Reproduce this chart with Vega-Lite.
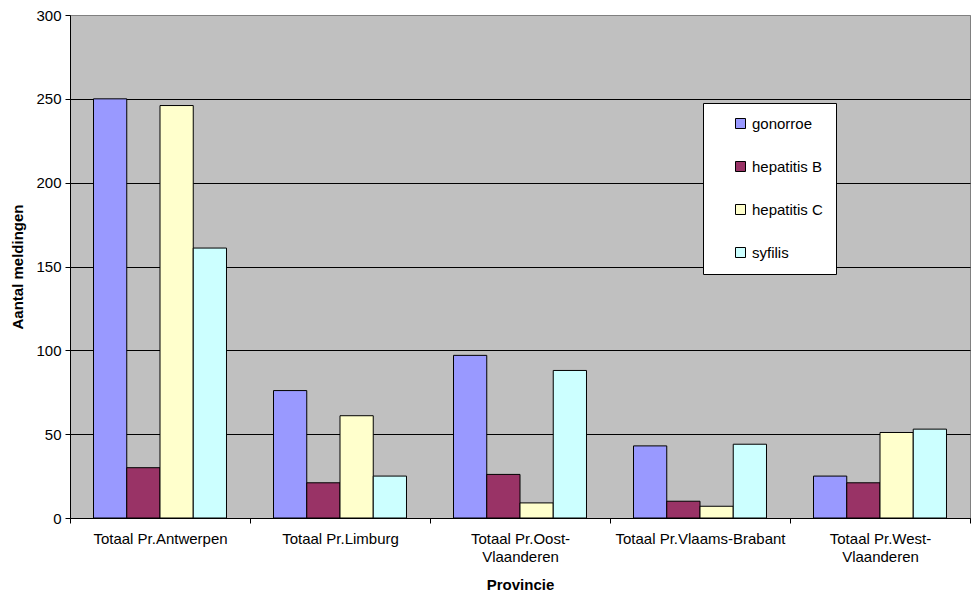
{
  "$schema": "https://vega.github.io/schema/vega-lite/v6.json",
  "width": 900,
  "height": 503,
  "autosize": {"type": "none"},
  "padding": {"left": 70, "top": 15, "right": 1, "bottom": 74},
  "background": "white",
  "config": {
    "font": "Liberation Sans",
    "view": {"fill": "#C0C0C0", "stroke": "#808080", "strokeWidth": 1}
  },
  "data": {
    "values": [
      {"provincie": "Totaal Pr.Antwerpen", "ziekte": "gonorroe", "aantal": 250},
      {"provincie": "Totaal Pr.Antwerpen", "ziekte": "hepatitis B", "aantal": 30},
      {"provincie": "Totaal Pr.Antwerpen", "ziekte": "hepatitis C", "aantal": 246},
      {"provincie": "Totaal Pr.Antwerpen", "ziekte": "syfilis", "aantal": 161},
      {"provincie": "Totaal Pr.Limburg", "ziekte": "gonorroe", "aantal": 76},
      {"provincie": "Totaal Pr.Limburg", "ziekte": "hepatitis B", "aantal": 21},
      {"provincie": "Totaal Pr.Limburg", "ziekte": "hepatitis C", "aantal": 61},
      {"provincie": "Totaal Pr.Limburg", "ziekte": "syfilis", "aantal": 25},
      {"provincie": "Totaal Pr.Oost-Vlaanderen", "ziekte": "gonorroe", "aantal": 97},
      {"provincie": "Totaal Pr.Oost-Vlaanderen", "ziekte": "hepatitis B", "aantal": 26},
      {"provincie": "Totaal Pr.Oost-Vlaanderen", "ziekte": "hepatitis C", "aantal": 9},
      {"provincie": "Totaal Pr.Oost-Vlaanderen", "ziekte": "syfilis", "aantal": 88},
      {"provincie": "Totaal Pr.Vlaams-Brabant", "ziekte": "gonorroe", "aantal": 43},
      {"provincie": "Totaal Pr.Vlaams-Brabant", "ziekte": "hepatitis B", "aantal": 10},
      {"provincie": "Totaal Pr.Vlaams-Brabant", "ziekte": "hepatitis C", "aantal": 7},
      {"provincie": "Totaal Pr.Vlaams-Brabant", "ziekte": "syfilis", "aantal": 44},
      {"provincie": "Totaal Pr.West-Vlaanderen", "ziekte": "gonorroe", "aantal": 25},
      {"provincie": "Totaal Pr.West-Vlaanderen", "ziekte": "hepatitis B", "aantal": 21},
      {"provincie": "Totaal Pr.West-Vlaanderen", "ziekte": "hepatitis C", "aantal": 51},
      {"provincie": "Totaal Pr.West-Vlaanderen", "ziekte": "syfilis", "aantal": 53}
    ]
  },
  "mark": {"type": "bar", "stroke": "black", "strokeWidth": 1},
  "encoding": {
    "x": {
      "field": "provincie",
      "type": "nominal",
      "sort": null,
      "scale": {"paddingInner": 0, "paddingOuter": 0},
      "axis": {
        "title": "Provincie",
        "titleFontSize": 15,
        "titleFontWeight": "bold",
        "titleColor": "black",
        "titlePadding": 13,
        "labelAngle": 0,
        "labelFontSize": 15,
        "labelColor": "black",
        "labelPadding": 8,
        "labelLineHeight": 18,
        "labelExpr": "datum.value == 'Totaal Pr.Oost-Vlaanderen' ? ['Totaal Pr.Oost-', 'Vlaanderen'] : datum.value == 'Totaal Pr.West-Vlaanderen' ? ['Totaal Pr.West-', 'Vlaanderen'] : datum.value",
        "tickBand": "extent",
        "tickSize": 5,
        "tickColor": "black",
        "domainColor": "black",
        "grid": false
      }
    },
    "xOffset": {
      "field": "ziekte",
      "type": "nominal",
      "scale": {"paddingInner": 0, "paddingOuter": 0.707}
    },
    "y": {
      "field": "aantal",
      "type": "quantitative",
      "scale": {"domain": [0, 300], "nice": false},
      "axis": {
        "title": "Aantal meldingen",
        "titleFontSize": 15,
        "titleFontWeight": "bold",
        "titleColor": "black",
        "titlePadding": 10,
        "values": [0, 50, 100, 150, 200, 250, 300],
        "labelFontSize": 15,
        "labelColor": "black",
        "labelPadding": 4,
        "tickSize": 5,
        "tickColor": "black",
        "domainColor": "black",
        "grid": true,
        "gridColor": {"condition": {"test": "datum.value == 300", "value": "#808080"}, "value": "black"},
        "gridOpacity": 1
      }
    },
    "fill": {
      "field": "ziekte",
      "type": "nominal",
      "scale": {
        "domain": ["gonorroe", "hepatitis B", "hepatitis C", "syfilis"],
        "range": ["#9999FF", "#993366", "#FFFFCC", "#CCFFFF"]
      },
      "legend": {
        "title": null,
        "orient": "none",
        "legendX": 633,
        "legendY": 88,
        "direction": "vertical",
        "fillColor": "white",
        "strokeColor": "black",
        "padding": 13,
        "rowPadding": 27,
        "symbolType": "square",
        "symbolSize": 100,
        "symbolOffset": 17,
        "symbolStrokeColor": "black",
        "symbolStrokeWidth": 1,
        "labelFontSize": 15,
        "labelColor": "black",
        "labelOffset": 4
      }
    }
  }
}
